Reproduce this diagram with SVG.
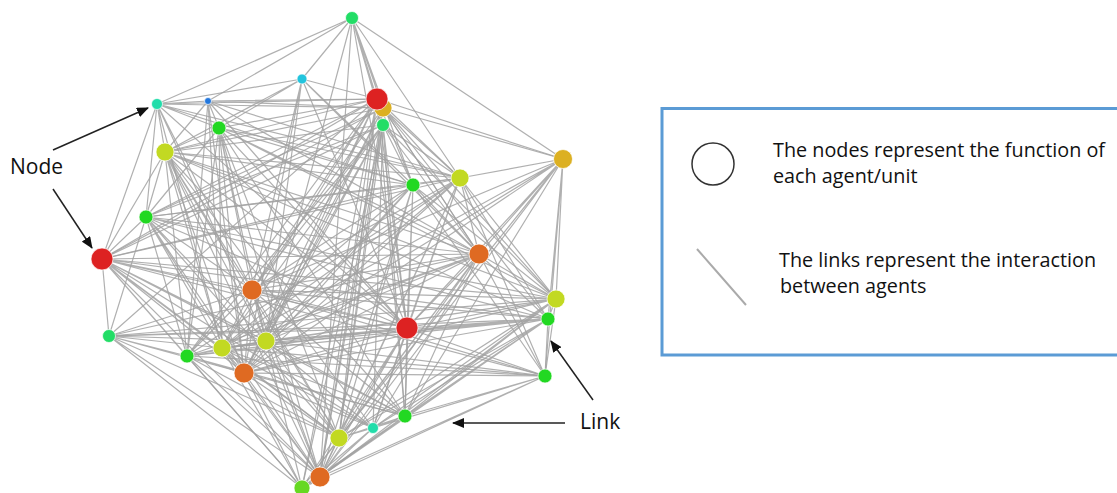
<svg xmlns="http://www.w3.org/2000/svg" width="1117" height="493" viewBox="0 0 1117 493">
<style>
.lk{fill:none;stroke:#a2a2a2;stroke-width:1.2;stroke-opacity:0.85}
.nd{stroke:#ffffff;stroke-width:1;stroke-opacity:0.7}
.g1{fill:#22d822}.g2{fill:#22dd66}.tl{fill:#22ddaa}.cy{fill:#22c4dd}.bl{fill:#2277dd}
.yg{fill:#c2d922}.gd{fill:#dcb022}.or{fill:#df6a22}.rd{fill:#dd2222}.lg{fill:#66d822}
.lbl{font-family:"Open Sans","Liberation Sans",sans-serif;fill:#111}
.arr{stroke:#222;stroke-width:1.5;fill:none;marker-end:url(#ah)}
</style>
<defs>
<marker id="ah" markerUnits="userSpaceOnUse" markerWidth="12" markerHeight="10" refX="11" refY="5" orient="auto">
<path d="M0 0L12 5L0 10Z" fill="#111"/>
</marker>
</defs>
<rect width="1117" height="493" fill="#ffffff"/>
<g id="links" class="lk">
<path d="M352 18L157 104M352 18L208 101M352 18L302 79M352 18L377 99M352 18L383 108M352 18L383 125M352 18L563 159M352 18L460 178M352 18L413 185M352 18L407 328M352 18L266 341M352 18L320 477"/>
<path d="M302 79L157 104M302 79L377 99M302 79L219 128M302 79L165 152M302 79L252 290M302 79L266 341M302 79L413 185M302 79L479 254M302 79L407 328M302 79L244 373"/>
<path d="M157 104L208 101M157 104L377 99M157 104L383 108M157 104L219 128M157 104L165 152M157 104L146 217M157 104L102 259M157 104L413 185M157 104L460 178M157 104L252 290M157 104L222 348M157 104L266 341M157 104L407 328"/>
<path d="M208 101L377 99M208 101L383 108M208 101L219 128M208 101L165 152M208 101L187 356M208 101L222 348M208 101L244 373M208 101L479 254M208 101L407 328M208 101L460 178"/>
<path d="M377 99L219 128M377 99L165 152M377 99L146 217M377 99L102 259M377 99L460 178M377 99L563 159M377 99L479 254M377 99L252 290M377 99L222 348M377 99L266 341M377 99L244 373M377 99L339 438M377 99L320 477M377 99L302 488M377 99L405 416M377 99L407 328M377 99L109 336M377 99L187 356M377 99L413 185"/>
<path d="M383 108L563 159M383 108L460 178M383 108L479 254M383 108L556 299M383 108L548 319M383 108L244 373M383 108L339 438M383 108L320 477M383 108L266 341M383 108L252 290M383 108L165 152M383 108L146 217M383 108L102 259"/>
<path d="M383 125L165 152M383 125L146 217M383 125L102 259M383 125L187 356M383 125L222 348M383 125L266 341M383 125L244 373M383 125L339 438M383 125L320 477M383 125L302 488M383 125L413 185M383 125L460 178M383 125L479 254M383 125L556 299M383 125L407 328M383 125L373 428M383 125L405 416M383 125L252 290"/>
<path d="M219 128L165 152M219 128L460 178M219 128L413 185M219 128L479 254M219 128L407 328M219 128L244 373M219 128L222 348M219 128L266 341M219 128L187 356M219 128L252 290M219 128L556 299M219 128L339 438M219 128L320 477M219 128L405 416M219 128L146 217"/>
<path d="M165 152L413 185M165 152L460 178M165 152L479 254M165 152L146 217M165 152L102 259M165 152L252 290M165 152L407 328M165 152L266 341M165 152L222 348M165 152L244 373M165 152L187 356M165 152L339 438M165 152L320 477M165 152L405 416M165 152L556 299M165 152L548 319M165 152L373 428"/>
<path d="M413 185L460 178M413 185L479 254M413 185L146 217M413 185L102 259M413 185L252 290M413 185L556 299M413 185L407 328M413 185L266 341M413 185L244 373M413 185L339 438M413 185L320 477M413 185L405 416M413 185L545 376M413 185L222 348"/>
<path d="M460 178L479 254M460 178L146 217M460 178L102 259M460 178L252 290M460 178L556 299M460 178L548 319M460 178L407 328M460 178L187 356M460 178L222 348M460 178L266 341M460 178L244 373M460 178L339 438M460 178L320 477M460 178L545 376M460 178L373 428"/>
<path d="M563 159L479 254M563 159L556 299M563 159L548 319M563 159L407 328M563 159L244 373M563 159L266 341M563 159L339 438M563 159L320 477M563 159L545 376M563 159L405 416M563 159L252 290M563 159L222 348M563 159L460 178"/>
<path d="M146 217L102 259M146 217L479 254M146 217L252 290M146 217L407 328M146 217L109 336M146 217L187 356M146 217L222 348M146 217L266 341M146 217L244 373M146 217L556 299M146 217L548 319M146 217L339 438M146 217L320 477"/>
<path d="M102 259L479 254M102 259L252 290M102 259L556 299M102 259L548 319M102 259L407 328M102 259L109 336M102 259L187 356M102 259L222 348M102 259L266 341M102 259L244 373M102 259L339 438M102 259L320 477M102 259L302 488M102 259L545 376M102 259L405 416M102 259L373 428"/>
<path d="M479 254L252 290M479 254L556 299M479 254L548 319M479 254L407 328M479 254L109 336M479 254L187 356M479 254L222 348M479 254L266 341M479 254L244 373M479 254L545 376M479 254L405 416M479 254L373 428M479 254L339 438M479 254L320 477M479 254L302 488"/>
<path d="M252 290L556 299M252 290L548 319M252 290L407 328M252 290L109 336M252 290L187 356M252 290L222 348M252 290L266 341M252 290L244 373M252 290L545 376M252 290L405 416M252 290L339 438M252 290L320 477"/>
<path d="M556 299L407 328M556 299L548 319M556 299L109 336M556 299L222 348M556 299L266 341M556 299L244 373M556 299L545 376M556 299L405 416M556 299L373 428M556 299L339 438M556 299L320 477"/>
<path d="M548 319L407 328M548 319L109 336M548 319L187 356M548 319L222 348M548 319L266 341M548 319L244 373M548 319L545 376M548 319L405 416M548 319L373 428M548 319L339 438M548 319L320 477M548 319L302 488"/>
<path d="M407 328L109 336M407 328L187 356M407 328L222 348M407 328L266 341M407 328L244 373M407 328L545 376M407 328L405 416M407 328L373 428M407 328L339 438M407 328L320 477M407 328L302 488"/>
<path d="M109 336L187 356M109 336L222 348M109 336L266 341M109 336L244 373M109 336L339 438M109 336L320 477M109 336L302 488"/>
<path d="M187 356L222 348M187 356L266 341M187 356L244 373M187 356L339 438M187 356L320 477M187 356L302 488M187 356L545 376M187 356L405 416"/>
<path d="M222 348L266 341M222 348L244 373M222 348L339 438M222 348L320 477M222 348L302 488M222 348L405 416M222 348L373 428M222 348L545 376"/>
<path d="M266 341L244 373M266 341L339 438M266 341L320 477M266 341L302 488M266 341L545 376M266 341L405 416M266 341L373 428"/>
<path d="M244 373L545 376M244 373L405 416M244 373L373 428M244 373L339 438M244 373L320 477M244 373L302 488"/>
<path d="M545 376L405 416M545 376L373 428M545 376L339 438M545 376L320 477M545 376L302 488M405 416L373 428M405 416L339 438M405 416L320 477M405 416L302 488M373 428L339 438M373 428L320 477M373 428L302 488M339 438L320 477M339 438L302 488M320 477L302 488"/>
</g>
<g id="nodes">
<g id="n-A"><circle class="nd g2" cx="352" cy="18" r="6.5"/></g>
<g id="n-B"><circle class="nd cy" cx="302" cy="79" r="5"/></g>
<g id="n-C"><circle class="nd tl" cx="157" cy="104" r="5.5"/></g>
<g id="n-D"><circle class="nd bl" cx="208" cy="101" r="3.5"/></g>
<g id="n-E"><circle class="nd gd" cx="383" cy="108" r="9"/></g>
<g id="n-F"><circle class="nd rd" cx="377" cy="99" r="11"/></g>
<g id="n-G"><circle class="nd g2" cx="383" cy="125" r="6.5"/></g>
<g id="n-H"><circle class="nd g1" cx="219" cy="128" r="7"/></g>
<g id="n-I"><circle class="nd yg" cx="165" cy="152" r="9"/></g>
<g id="n-J"><circle class="nd g1" cx="413" cy="185" r="7"/></g>
<g id="n-K"><circle class="nd yg" cx="460" cy="178" r="9"/></g>
<g id="n-L"><circle class="nd gd" cx="563" cy="159" r="9.5"/></g>
<g id="n-M"><circle class="nd g1" cx="146" cy="217" r="7"/></g>
<g id="n-N"><circle class="nd rd" cx="102" cy="259" r="11"/></g>
<g id="n-O"><circle class="nd or" cx="479" cy="254" r="10"/></g>
<g id="n-P"><circle class="nd or" cx="252" cy="290" r="10"/></g>
<g id="n-Q"><circle class="nd yg" cx="556" cy="299" r="9"/></g>
<g id="n-R"><circle class="nd g1" cx="548" cy="319" r="7"/></g>
<g id="n-S"><circle class="nd rd" cx="407" cy="328" r="11"/></g>
<g id="n-T"><circle class="nd g2" cx="109" cy="336" r="6.5"/></g>
<g id="n-U"><circle class="nd g1" cx="187" cy="356" r="7"/></g>
<g id="n-V"><circle class="nd yg" cx="222" cy="348" r="9"/></g>
<g id="n-W"><circle class="nd yg" cx="266" cy="341" r="9"/></g>
<g id="n-X"><circle class="nd or" cx="244" cy="373" r="10"/></g>
<g id="n-Y"><circle class="nd g1" cx="545" cy="376" r="7"/></g>
<g id="n-Z"><circle class="nd g1" cx="405" cy="416" r="7"/></g>
<g id="n-a"><circle class="nd tl" cx="373" cy="428" r="5.5"/></g>
<g id="n-b"><circle class="nd yg" cx="339" cy="438" r="9"/></g>
<g id="n-c"><circle class="nd or" cx="320" cy="477" r="10"/></g>
<g id="n-d"><circle class="nd lg" cx="302" cy="488" r="8"/></g>
</g>
<g id="annotations">
<text class="lbl" x="10" y="174" font-size="21">Node</text>
<line class="arr" x1="53" y1="150" x2="148" y2="108"/>
<line class="arr" x1="53" y1="189" x2="92" y2="248"/>
<text class="lbl" x="580" y="429" font-size="21">Link</text>
<line class="arr" x1="565" y1="423" x2="453" y2="423"/>
<line class="arr" x1="593" y1="400" x2="551" y2="341"/>
</g>
<g id="legend">
<rect x="662" y="108.5" width="470" height="246.5" fill="none" stroke="#5b9bd5" stroke-width="3"/>
<circle cx="713" cy="164" r="21" fill="none" stroke="#333" stroke-width="1.5"/>
<line x1="697" y1="249" x2="746" y2="305" stroke="#aaaaaa" stroke-width="2"/>
<text class="lbl" x="773" y="157" font-size="19.8">The nodes represent the function of</text>
<text class="lbl" x="773" y="183" font-size="19.8">each agent/unit</text>
<text class="lbl" x="779" y="267" font-size="19.8">The links represent the interaction</text>
<text class="lbl" x="780" y="293" font-size="19.8">between agents</text>
</g>
</svg>
